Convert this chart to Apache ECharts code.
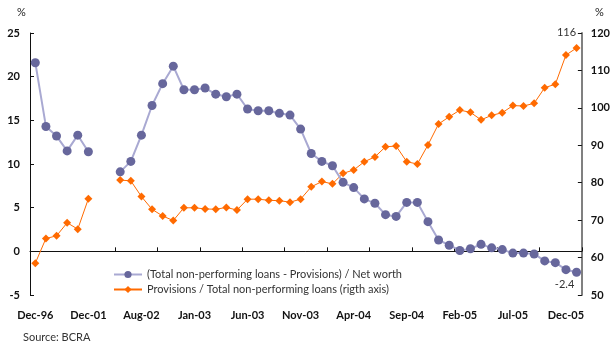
<!DOCTYPE html>
<html>
<head>
<meta charset="utf-8">
<script src="https://cdn.jsdelivr.net/npm/echarts@6/dist/echarts.min.js"></script>
<style>
  html, body { margin: 0; padding: 0; background: #fff; }
  #chart { width: 613px; height: 347px; }
</style>
</head>
<body>
<div id="chart"></div>
<script>
// yearly points, then a two-month gap, then monthly Jun-02 .. Jan-06
const categories = ['Dec-96', 'Dec-97', 'Dec-98', 'Dec-99', 'Dec-00', 'Dec-01', 'Apr-02', 'May-02']
const months = ['Jan', 'Feb', 'Mar', 'Apr', 'May', 'Jun', 'Jul', 'Aug', 'Sep', 'Oct', 'Nov', 'Dec']
for (let y = 2; y <= 6; y++) {
  for (let m = 0; m < 12; m++) {
    if (y === 2 && m < 5) continue
    if (y === 6 && m > 0) continue
    categories.push(months[m] + '-0' + y)
  }
}

const netWorth = [
  21.6, 14.3, 13.2, 11.5, 13.3, 11.4, null, null,
  9.1, 10.3, 13.3, 16.7, 19.2, 21.2, 18.5, 18.5, 18.7, 18.0,
  17.7, 18.0, 16.3, 16.1, 16.1, 15.8, 15.6, 14.0, 11.2, 10.3,
  9.8, 7.9, 7.3, 6.0, 5.5, 4.2, 4.0, 5.6, 5.6, 3.4,
  1.3, 0.7, 0.1, 0.3, 0.8, 0.4, 0.2, -0.2, -0.2, -0.3,
  -1.1, -1.3, -2.1, -2.4
]

const provisions = [
  58.5, 65.1, 65.8, 69.3, 67.6, 75.7, null, null,
  80.7, 80.5, 76.3, 72.9, 71.1, 69.9, 73.3, 73.3, 73.0, 72.9,
  73.4, 72.7, 75.6, 75.6, 75.3, 75.2, 74.8, 75.6, 78.9, 80.3,
  79.7, 82.5, 83.4, 85.6, 86.9, 89.6, 89.8, 85.6, 85.0, 90.1,
  95.7, 97.6, 99.4, 98.8, 96.8, 98.0, 98.7, 100.6, 100.5, 101.2,
  105.4, 106.3, 114.1, 116.0
]

const seriesNames = [
  '(Total non-performing loans - Provisions) / Net worth',
  'Provisions / Total non-performing loans (rigth axis)'
]

const FONT = 'Lato, "DejaVu Sans", sans-serif'
const last = categories.length - 1

let chart = echarts.init(document.getElementById('chart'))
let chartOpt = {
  animation: false,
  textStyle: { fontFamily: FONT },
  grid: { left: 30, right: 24, top: 33, bottom: 52, containLabel: false },
  legend: {
    orient: 'vertical',
    left: 108,
    top: 264,
    itemGap: 4,
    itemWidth: 28,
    itemHeight: 9,
    textStyle: { fontFamily: FONT, fontSize: 11, color: '#333' },
    data: seriesNames
  },
  graphic: [
    { type: 'text', left: 17, top: 7, style: { text: '%', font: '11px ' + FONT, fill: '#222' } },
    { type: 'text', left: 595, top: 7, style: { text: '%', font: '11px ' + FONT, fill: '#222' } },
    { type: 'text', left: 23, top: 332, style: { text: 'Source: BCRA', font: '11px ' + FONT, fill: '#333' } }
  ],
  xAxis: [
    {
      type: 'category',
      data: categories,
      boundaryGap: true,
      axisLine: { show: false },
      axisTick: { show: false },
      axisLabel: {
        interval: 4,
        margin: 15,
        fontFamily: FONT,
        fontWeight: 'bold',
        fontSize: 11,
        color: '#111'
      }
    },
    {
      type: 'category',
      data: categories,
      position: 'bottom',
      boundaryGap: true,
      axisLine: { show: true, onZero: true, onZeroAxisIndex: 0, lineStyle: { color: '#111', width: 1 } },
      axisTick: {
        show: true,
        inside: true,
        length: 4,
        lineStyle: { color: '#111' },
        interval: function (i) { return i >= 8 && i % 4 === 0 }
      },
      axisLabel: { show: false }
    }
  ],
  yAxis: [
    {
      type: 'value',
      min: -5,
      max: 25,
      interval: 5,
      splitLine: { show: false },
      axisLine: { show: true, lineStyle: { color: '#111' } },
      axisTick: { show: true, inside: true, length: 4, lineStyle: { color: '#111' } },
      axisLabel: { margin: 10, fontFamily: FONT, fontWeight: 'bold', fontSize: 11, color: '#111' }
    },
    {
      type: 'value',
      position: 'right',
      min: 50,
      max: 120,
      interval: 10,
      splitLine: { show: false },
      axisLine: { show: true, lineStyle: { color: '#808080', width: 2 } },
      axisTick: { show: true, inside: true, length: 4, lineStyle: { color: '#111' } },
      axisLabel: { margin: 9, fontFamily: FONT, fontWeight: 'bold', fontSize: 11, color: '#111' }
    }
  ],
  series: [
    {
      name: seriesNames[0],
      type: 'line',
      xAxisIndex: 0,
      yAxisIndex: 0,
      showAllSymbol: true,
      data: netWorth.map(function (v, i) {
        if (i === last) {
          return {
            value: v,
            label: { show: true, position: 'bottom', offset: [-12, -3], formatter: '-2.4', color: '#333', fontSize: 11 }
          }
        }
        return v
      }),
      symbol: 'circle',
      symbolSize: 9,
      lineStyle: { color: '#a9a9d2', width: 2 },
      itemStyle: { color: '#67679c' },
      z: 3
    },
    {
      name: seriesNames[1],
      type: 'line',
      xAxisIndex: 0,
      yAxisIndex: 1,
      showAllSymbol: true,
      data: provisions.map(function (v, i) {
        if (i === last) {
          return {
            value: v,
            label: { show: true, position: 'top', offset: [-10, -1], formatter: '116', color: '#333', fontSize: 11 }
          }
        }
        return v
      }),
      symbol: 'diamond',
      symbolSize: 8,
      lineStyle: { color: '#ff6a00', width: 1 },
      itemStyle: { color: '#ff6a00' },
      z: 2
    }
  ]
}

chart.setOption(chartOpt)
</script>
</body>
</html>
